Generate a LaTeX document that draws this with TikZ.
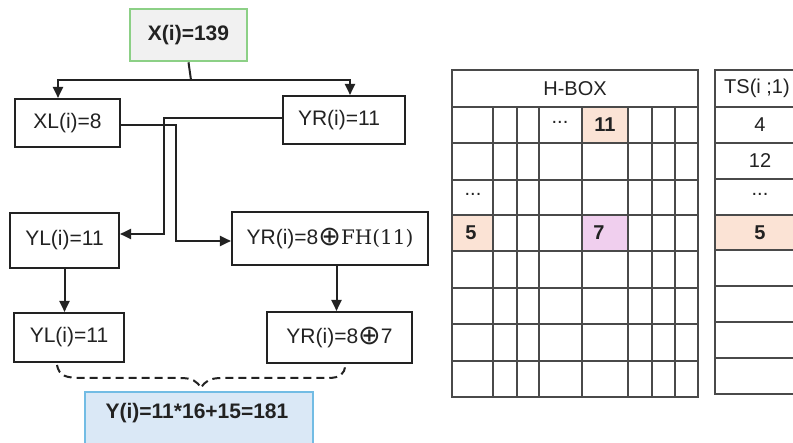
\documentclass[tikz,border=0pt]{standalone}
\usepackage{fontspec}
\setmainfont{Liberation Sans}
\newfontfamily\serifm{DejaVu Serif}
\newfontfamily\symbf{DejaVu Sans}
\usetikzlibrary{arrows.meta}
\definecolor{peach}{HTML}{FBE3D5}
\definecolor{violetc}{HTML}{F0CFEE}
\definecolor{lblue}{HTML}{DAE8F6}
\definecolor{bblue}{HTML}{72BCE4}
\definecolor{gbord}{HTML}{8CD086}
\definecolor{gfill}{HTML}{F1F1F1}
\definecolor{ink}{HTML}{222222}
\definecolor{gline}{HTML}{4A4A4A}
\newcommand{\opl}{\raisebox{-1.5pt}{\symbf\fontsize{27}{27}\selectfont ⊕}}
\tikzset{
  box/.style={draw=ink, line width=2.1pt, rectangle, inner sep=0pt, text=ink,
    font=\fontsize{21}{25}\selectfont},
  arr/.style={draw=ink, line width=2pt, -{Triangle[length=11pt,width=10pt]}},
  link/.style={draw=ink, line width=2pt},
  cell/.style={inner sep=0pt, text=ink, font=\fontsize{20}{24}\selectfont},
  bcell/.style={cell, font=\fontsize{20}{24}\selectfont\bfseries},
  gridl/.style={draw=gline, line width=1.8pt},
}
\begin{document}
\begin{tikzpicture}[x=1pt,y=-1pt]
\useasboundingbox (0,0) rectangle (793,443);
\clip (0,0) rectangle (793,443);
\fill[white] (0,0) rectangle (793,443);

% ---------- left tree ----------
\node[box, draw=gbord, line width=2.6pt, fill=gfill, minimum width=117pt, minimum height=52pt,
  font=\fontsize{21}{25}\selectfont\bfseries] (X) at (188.5,35) {X(i)=139};
\node[box, minimum width=105pt, minimum height=48pt] (XL) at (67.5,123) {XL(i)=8};
\node[box, minimum width=122pt, minimum height=48pt] (YR1) at (344,120) {\hspace*{-10pt}YR(i)=11};
\node[box, minimum width=109pt, minimum height=55pt] (YL1) at (64.5,240.5) {YL(i)=11};
\node[box, minimum width=196pt, minimum height=53pt] (YRFH) at (330,238.5)
  {YR(i)=8\opl{\serifm\fontsize{20}{24}\selectfont FH(11)}};
\node[box, minimum width=110pt, minimum height=49pt] (YL2) at (69,337.5) {YL(i)=11};
\node[box, minimum width=145pt, minimum height=51pt] (YR2) at (339.5,337.5) {YR(i)=8\opl7};
\node[box, draw=bblue, fill=lblue, line width=1.8pt, minimum width=228pt, minimum height=80pt]
  (Y) at (199,432) {};
\node[inner sep=0pt, text=ink, font=\fontsize{21}{25}\selectfont\bfseries] (Ytxt) at (197,413)
  {Y(i)=11*16+15=181};

\coordinate (xj) at (191,80);
\draw[link] (X.south) -- (xj);
\draw[arr] (xj) -| ([xshift=-9.5pt]XL.north);
\draw[arr] (xj) -| ([xshift=6pt]YR1.north);

\coordinate (c1) at (176,241);
\coordinate (c2) at (164,234);
\draw[arr] ([yshift=-2pt]XL.east) -| (c1) -- (c1 -| YRFH.west);
\draw[arr] ([yshift=2pt]YR1.west) -| (c2) -- (c2 -| YL1.east);

\draw[arr] (YL1.south) -- (YL1.south |- YL2.north);
\draw[arr] ([xshift=-3pt]YRFH.south -| YR2.north) -- ([xshift=-3pt]YR2.north);

% dashed brace
\coordinate (bl) at (57,365);
\coordinate (bt) at (201,388);
\coordinate (br) at (345,365);
\draw[draw=ink, line width=2pt, dash pattern=on 8pt off 5pt]
  (bl) .. controls (59,376) and (66,378) .. (82,378) -- (180,378)
  .. controls (192,378) and (197,381) .. (bt)
  .. controls (205,381) and (210,378) .. (222,378) -- (328,378)
  .. controls (340,378) and (345,374) .. (br);

% ---------- H-BOX ----------
\fill[peach] (582,107) rectangle (628,143);
\fill[peach] (452,215) rectangle (493,251);
\fill[violetc] (582,215) rectangle (628,251);
\foreach \yy in {107,143,180,215,251,288,324,361}
  \draw[gridl] (452,\yy) -- (698,\yy);
\foreach \xx in {493,517,539,582,628,652,675}
  \draw[gridl] (\xx,107) -- (\xx,397);
\draw[gridl] (452,70) rectangle (698,397);
\node[cell] (hb) at (575,88.5) {H-BOX};
\node[cell] (hd1) at (560,122) {...};
\node[bcell] (h11) at (605,125) {11};
\node[cell] (hd2) at (473,194) {...};
\node[bcell] (h5) at (471,233) {5};
\node[bcell] (h7) at (599,233) {7};

% ---------- TS ----------
\fill[peach] (715,215) rectangle (810,250);
\foreach \yy in {107,143,179,215,250,286,322,358}
  \draw[gridl] (715,\yy) -- (810,\yy);
\draw[gridl] (715,70) rectangle (810,394);
\node[cell] (tsh) at (757,88.5) {TS(i ;1)};
\node[cell] (t4) at (760,125) {4};
\node[cell] (t12) at (760,161) {12};
\node[cell] (td) at (760,194) {...};
\node[bcell] (t5) at (760,233) {5};
\end{tikzpicture}
\end{document}
